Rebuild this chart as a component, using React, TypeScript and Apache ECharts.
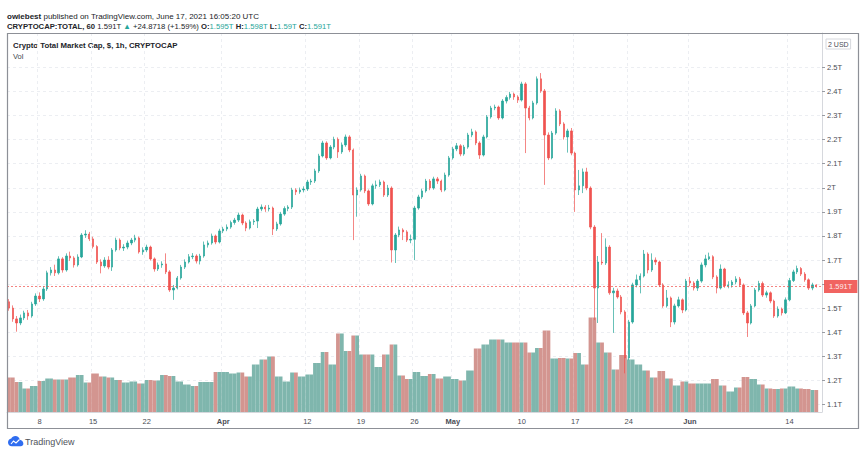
import React, { useEffect, useRef } from 'react';
import * as echarts from 'echarts';

// ---- data (price in trillions USD), half-day candles from 2021-03-04 00:00 UTC ----
const START_UTC = Date.UTC(2021, 2, 4, 0, 0);
const SLOT_HOURS = 12;
const SLOT_COUNT = 213;

// [open, close, low, high]
const candles: number[][] = [
  [1.527,1.501,1.490,1.538],[1.501,1.456,1.444,1.512],[1.456,1.439,1.403,1.468],[1.439,1.460,1.430,1.474],
  [1.460,1.481,1.451,1.490],[1.481,1.468,1.452,1.493],[1.468,1.518,1.461,1.527],[1.518,1.551,1.510,1.562],
  [1.551,1.539,1.526,1.566],[1.539,1.580,1.531,1.592],[1.580,1.647,1.572,1.656],[1.647,1.659,1.636,1.671],
  [1.659,1.647,1.634,1.681],[1.647,1.705,1.640,1.716],[1.705,1.659,1.648,1.712],[1.659,1.717,1.652,1.728],
  [1.717,1.709,1.697,1.735],[1.709,1.680,1.669,1.716],[1.680,1.713,1.673,1.724],[1.713,1.804,1.708,1.812],
  [1.804,1.808,1.792,1.824],[1.808,1.788,1.779,1.817],[1.788,1.756,1.748,1.797],[1.756,1.692,1.684,1.762],
  [1.692,1.676,1.645,1.703],[1.676,1.700,1.668,1.712],[1.700,1.671,1.662,1.716],[1.671,1.742,1.655,1.750],
  [1.742,1.783,1.735,1.793],[1.783,1.750,1.741,1.790],[1.750,1.754,1.738,1.766],[1.754,1.771,1.745,1.781],
  [1.771,1.783,1.762,1.792],[1.783,1.792,1.774,1.805],[1.792,1.734,1.727,1.798],[1.734,1.742,1.722,1.753],
  [1.742,1.754,1.733,1.764],[1.754,1.705,1.698,1.760],[1.705,1.663,1.652,1.711],[1.663,1.680,1.655,1.690],
  [1.680,1.684,1.668,1.695],[1.684,1.651,1.642,1.728],[1.651,1.576,1.568,1.658],[1.576,1.584,1.535,1.597],
  [1.584,1.626,1.578,1.634],[1.626,1.671,1.619,1.680],[1.671,1.692,1.663,1.703],[1.692,1.714,1.686,1.725],
  [1.714,1.717,1.704,1.729],[1.717,1.696,1.686,1.724],[1.696,1.717,1.682,1.726],[1.717,1.763,1.710,1.777],
  [1.763,1.771,1.752,1.781],[1.771,1.800,1.764,1.810],[1.800,1.775,1.766,1.806],[1.775,1.821,1.769,1.830],
  [1.821,1.829,1.812,1.838],[1.829,1.837,1.820,1.848],[1.837,1.856,1.830,1.864],[1.856,1.866,1.847,1.875],
  [1.866,1.887,1.858,1.897],[1.887,1.854,1.845,1.893],[1.854,1.833,1.820,1.861],[1.833,1.859,1.827,1.868],
  [1.859,1.862,1.846,1.870],[1.862,1.912,1.833,1.921],[1.912,1.920,1.903,1.931],[1.920,1.912,1.900,1.928],
  [1.912,1.916,1.902,1.929],[1.916,1.829,1.804,1.922],[1.829,1.850,1.821,1.859],[1.850,1.891,1.843,1.900],
  [1.891,1.914,1.884,1.923],[1.914,1.920,1.903,1.928],[1.920,1.991,1.912,2.000],[1.991,1.983,1.970,1.998],
  [1.983,1.991,1.975,2.001],[1.991,1.995,1.981,2.006],[1.995,2.024,1.987,2.033],[2.024,2.028,2.012,2.037],
  [2.028,2.070,2.020,2.079],[2.070,2.132,2.062,2.141],[2.132,2.186,2.126,2.195],[2.186,2.124,2.116,2.193],
  [2.124,2.169,2.118,2.177],[2.169,2.201,2.160,2.212],[2.201,2.149,2.124,2.209],[2.149,2.178,2.141,2.188],
  [2.178,2.211,2.170,2.221],[2.211,2.157,2.148,2.218],[2.157,1.970,1.783,2.163],[1.970,1.991,1.880,2.002],
  [1.991,2.049,1.984,2.058],[2.049,1.987,1.978,2.055],[1.987,1.933,1.925,1.993],[1.933,2.008,1.927,2.017],
  [2.008,2.012,1.996,2.030],[2.012,2.024,2.003,2.034],[2.024,1.970,1.962,2.030],[1.970,1.999,1.962,2.012],
  [1.999,1.742,1.690,2.006],[1.742,1.804,1.688,1.812],[1.804,1.825,1.795,1.839],[1.825,1.817,1.783,1.832],
  [1.817,1.783,1.775,1.824],[1.783,1.786,1.770,1.806],[1.786,1.916,1.700,1.925],[1.916,1.962,1.909,1.971],
  [1.962,1.987,1.954,1.996],[1.987,2.028,1.980,2.037],[2.028,1.999,1.990,2.036],[1.999,2.037,1.992,2.046],
  [2.037,2.028,2.016,2.045],[2.028,1.991,1.982,2.034],[1.991,2.053,1.985,2.063],[2.053,2.124,2.046,2.132],
  [2.124,2.161,2.117,2.170],[2.161,2.174,2.152,2.186],[2.174,2.140,2.131,2.181],[2.140,2.169,2.133,2.178],
  [2.169,2.219,2.162,2.228],[2.219,2.232,2.210,2.245],[2.232,2.186,2.177,2.238],[2.186,2.136,2.120,2.193],
  [2.136,2.211,2.130,2.220],[2.211,2.294,2.205,2.302],[2.294,2.331,2.287,2.340],[2.331,2.335,2.322,2.345],
  [2.335,2.290,2.282,2.341],[2.290,2.360,2.284,2.368],[2.360,2.375,2.350,2.384],[2.375,2.389,2.366,2.398],
  [2.389,2.377,2.365,2.395],[2.377,2.364,2.352,2.384],[2.364,2.431,2.358,2.440],[2.431,2.331,2.144,2.438],
  [2.331,2.290,2.280,2.340],[2.290,2.352,2.284,2.361],[2.352,2.452,2.345,2.462],[2.452,2.402,2.394,2.476],
  [2.402,2.219,2.012,2.410],[2.219,2.124,2.115,2.230],[2.124,2.227,2.118,2.236],[2.227,2.319,2.220,2.330],
  [2.319,2.265,2.256,2.326],[2.265,2.211,2.200,2.272],[2.211,2.236,2.146,2.245],[2.236,2.144,2.135,2.248],
  [2.144,1.991,1.900,2.150],[1.991,2.008,1.970,2.074],[2.008,2.066,1.978,2.080],[2.066,1.999,1.990,2.083],
  [1.999,1.837,1.828,2.006],[1.837,1.584,1.451,1.845],[1.584,1.692,1.439,1.717],[1.692,1.688,1.680,1.812],
  [1.688,1.754,1.680,1.790],[1.754,1.564,1.556,1.762],[1.564,1.572,1.398,1.585],[1.572,1.547,1.540,1.582],
  [1.547,1.485,1.475,1.555],[1.485,1.294,1.230,1.492],[1.294,1.443,1.285,1.452],[1.443,1.597,1.436,1.606],
  [1.597,1.618,1.587,1.640],[1.618,1.634,1.562,1.645],[1.634,1.725,1.628,1.742],[1.725,1.659,1.645,1.732],
  [1.659,1.700,1.651,1.728],[1.700,1.692,1.680,1.711],[1.692,1.597,1.588,1.698],[1.597,1.510,1.502,1.604],
  [1.510,1.543,1.503,1.576],[1.543,1.443,1.422,1.549],[1.443,1.510,1.433,1.519],[1.510,1.535,1.503,1.548],
  [1.535,1.493,1.480,1.541],[1.493,1.613,1.487,1.622],[1.613,1.605,1.592,1.630],[1.605,1.584,1.574,1.612],
  [1.584,1.613,1.572,1.621],[1.613,1.680,1.606,1.690],[1.680,1.705,1.670,1.722],[1.705,1.714,1.700,1.731],
  [1.714,1.630,1.621,1.720],[1.630,1.584,1.562,1.637],[1.584,1.663,1.578,1.682],[1.663,1.593,1.585,1.668],
  [1.593,1.597,1.583,1.612],[1.597,1.609,1.586,1.617],[1.609,1.622,1.600,1.633],[1.622,1.597,1.588,1.630],
  [1.597,1.481,1.472,1.603],[1.481,1.439,1.381,1.489],[1.439,1.510,1.433,1.518],[1.510,1.576,1.504,1.584],
  [1.576,1.603,1.569,1.614],[1.603,1.555,1.547,1.611],[1.555,1.564,1.544,1.573],[1.564,1.530,1.521,1.570],
  [1.530,1.468,1.460,1.536],[1.468,1.497,1.461,1.508],[1.497,1.481,1.470,1.503],[1.481,1.535,1.476,1.545],
  [1.535,1.615,1.529,1.626],[1.615,1.651,1.609,1.660],[1.651,1.665,1.642,1.677],[1.665,1.642,1.634,1.671],
  [1.642,1.618,1.610,1.650],[1.618,1.584,1.576,1.624],[1.584,1.597,1.575,1.606],[1.597,1.591,1.586,1.600],
];

// daily volume (arbitrary units), one value per day from Mar 4
const dailyVolume: number[] = [
  69, 60, 47, 52, 62, 67, 65, 65, 69, 74,
  59, 77, 71, 69, 64, 59, 61, 57, 64, 63,
  74, 72, 61, 55, 52, 60, 60, 80, 80, 77,
  79, 71, 95, 105, 111, 71, 61, 79, 71, 75,
  98, 120, 95, 157, 122, 153, 115, 115, 90, 115,
  135, 73, 66, 80, 72, 76, 67, 71, 66, 63,
  83, 127, 135, 145, 145, 139, 139, 139, 119, 128,
  163, 107, 108, 107, 118, 95, 189, 139, 119, 85,
  114, 105, 95, 83, 69, 82, 67, 53, 61, 57,
  57, 57, 66, 53, 41, 49, 70, 66, 55, 47,
  46, 47, 51, 47, 46, 44,
];

const xTickDates = [
  '2021-03-08', '2021-03-15', '2021-03-22', '2021-04-01', '2021-04-12', '2021-04-19', '2021-04-26',
  '2021-05-01', '2021-05-10', '2021-05-17', '2021-05-24', '2021-06-01', '2021-06-14',
];
const xTickLabels = ['8', '15', '22', 'Apr', '12', '19', '26', 'May', '10', '17', '24', 'Jun', '14'];
const monthLabels = ['Apr', 'May', 'Jun'];
const yTickValues = [1.1, 1.2, 1.3, 1.4, 1.5, 1.6, 1.7, 1.8, 1.9, 2.0, 2.1, 2.2, 2.3, 2.4, 2.5];
const yLabelValues = [1.1, 1.2, 1.3, 1.4, 1.5, 1.7, 1.8, 1.9, 2.0, 2.1, 2.2, 2.3, 2.4, 2.5];

const UP = '#26a69a';
const DOWN = '#ef5350';
const VOL_UP = '#7fb6ad';
const VOL_DOWN = '#d39590';
const FONT = '"Liberation Sans", Arial, sans-serif';

function pad(n: number) {
  return n < 10 ? '0' + n : '' + n;
}

export default function App() {
  const ref = useRef<HTMLDivElement>(null);

  useEffect(() => {
    document.body.style.margin = '0';
    if (!ref.current) return;
    const chart = echarts.init(ref.current, null, { renderer: 'svg' });

    const categories: string[] = [];
    for (let s = 0; s < SLOT_COUNT; s++) {
      const d = new Date(START_UTC + s * SLOT_HOURS * 3600 * 1000);
      categories.push(
        `${d.getUTCFullYear()}-${pad(d.getUTCMonth() + 1)}-${pad(d.getUTCDate())} ${pad(d.getUTCHours())}:00`
      );
    }
    const tickMap: Record<string, string> = {};
    xTickDates.forEach((t, k) => {
      tickMap[t + ' 00:00'] = xTickLabels[k];
    });
    const isTick = (_i: number, v: string) => tickMap[v] !== undefined;

    const volumeData = candles.map((c, i) => ({
      value: dailyVolume[Math.floor(i / 2)],
      itemStyle: { color: c[1] >= c[0] ? VOL_UP : VOL_DOWN },
    }));
    const lastClose = candles[candles.length - 1][1];

    const cloudPath =
      'M6 16C2.7 16 0 13.3 0 10C0 7 2.2 4.6 5.1 4.1C6.2 1.7 8.6 0 11.5 0C15 0 17.9 2.5 18.4 5.8C21.5 6.2 24 8.8 24 12C24 14.2 22.2 16 20 16Z';
    echarts.graphic.registerShape('tvcloud', echarts.graphic.extendPath(cloudPath, {}));

    const option: any = {
      animation: false,
      backgroundColor: '#ffffff',
      grid: { left: 7, right: 42, top: 33, bottom: 46, containLabel: false },
      xAxis: {
        type: 'category',
        data: categories,
        boundaryGap: true,
        axisLine: { show: true, lineStyle: { color: '#d6d8dd' } },
        axisTick: { show: false },
        axisLabel: {
          interval: isTick,
          margin: 5,
          fontSize: 7.5,
          fontFamily: FONT,
          color: '#4a4d55',
          formatter: (v: string) => {
            const l = tickMap[v];
            if (l === undefined) return '';
            return monthLabels.indexOf(l) >= 0 ? `{b|${l}}` : l;
          },
          rich: { b: { fontWeight: 'bold', fontSize: 7.5, fontFamily: FONT, color: '#4a4d55' } },
        },
        splitLine: { show: true, interval: isTick, lineStyle: { color: '#eceef2', type: [3, 3], width: 1 } },
      },
      yAxis: [
        {
          type: 'value',
          position: 'right',
          min: 1.0697,
          max: 2.6423,
          axisLine: { show: true, lineStyle: { color: '#d6d8dd' } },
          axisTick: { show: true, length: 3, customValues: yTickValues, lineStyle: { color: '#9a9ca3' } },
          axisLabel: {
            customValues: yLabelValues,
            margin: 5,
            fontSize: 7.5,
            fontFamily: FONT,
            color: '#4a4d55',
            formatter: (v: number) => `${parseFloat(v.toFixed(1))}T`,
          },
          splitLine: { show: true, lineStyle: { color: '#eceef2', type: [3, 3], width: 1 } },
        },
        {
          type: 'value',
          min: 0,
          max: 758,
          show: false,
          splitLine: { show: false },
        },
      ],
      series: [
        {
          type: 'bar',
          yAxisIndex: 1,
          data: volumeData,
          barWidth: '100%',
          barGap: '-100%',
          z: 1,
        },
        {
          type: 'candlestick',
          data: candles,
          barWidth: '50%',
          z: 3,
          itemStyle: {
            color: UP,
            color0: DOWN,
            borderColor: UP,
            borderColor0: DOWN,
            borderWidth: 0.7,
          },
          markLine: {
            silent: true,
            symbol: ['none', 'none'],
            data: [{ yAxis: lastClose }],
            lineStyle: { color: DOWN, type: [2, 2], width: 0.8, opacity: 0.9 },
            label: {
              show: true,
              position: 'end',
              distance: 2,
              formatter: () => `${lastClose.toFixed(3)}T`,
              backgroundColor: DOWN,
              color: '#ffffff',
              fontSize: 7.5,
              fontFamily: FONT,
              padding: [3, 5, 2, 5],
            },
          },
        },
      ],
      graphic: [
        {
          type: 'rect',
          shape: { x: 7.5, y: 33.5, width: 851, height: 395 },
          style: { fill: 'none', stroke: '#8d9097', lineWidth: 1.2 },
          silent: true,
          z: 10,
        },
        {
          type: 'text',
          x: 7,
          y: 16,
          style: {
            text: '{b|owiebest} published on TradingView.com, June 17, 2021 16:05:20 UTC',
            fontSize: 8,
            fontFamily: FONT,
            fill: '#222429',
            verticalAlign: 'middle',
            rich: { b: { fontWeight: 'bold', fontSize: 8, fontFamily: FONT, fill: '#222429' } },
          },
        },
        {
          type: 'text',
          x: 7,
          y: 26,
          style: {
            text:
              '{b|CRYPTOCAP:TOTAL, 60} 1.591T {g|▲} +24.8718 (+1.59%) {b|O:}{g|1.595T} {b|H:}{g|1.598T} {b|L:}{g|1.59T} {b|C:}{g|1.591T}',
            fontSize: 7.7,
            fontFamily: FONT,
            fill: '#222429',
            verticalAlign: 'middle',
            rich: {
              b: { fontWeight: 'bold', fontSize: 7.7, fontFamily: FONT, fill: '#222429' },
              g: { fontSize: 7.7, fontFamily: FONT, fill: UP },
            },
          },
        },
        {
          type: 'text',
          x: 13,
          y: 45,
          style: {
            text: 'Crypto Total Market Cap, $, 1h, CRYPTOCAP',
            fontSize: 7.8,
            fontWeight: 'bold',
            fontFamily: FONT,
            fill: '#222429',
            verticalAlign: 'middle',
          },
        },
        {
          type: 'text',
          x: 13,
          y: 56,
          style: { text: 'Vol', fontSize: 7.5, fontFamily: FONT, fill: '#444750', verticalAlign: 'middle' },
        },
        {
          type: 'text',
          x: 826,
          y: 44,
          style: {
            text: '2 USD',
            fontSize: 7,
            fontFamily: FONT,
            fill: '#4a4d55',
            verticalAlign: 'middle',
            borderColor: '#d6d8dd',
            borderWidth: 1,
            padding: [2, 2, 1, 2],
          },
        },
        {
          type: 'tvcloud',
          x: 8,
          y: 436,
          scaleX: 0.64,
          scaleY: 0.64,
          style: { fill: '#2f6df0' },
        },
        {
          type: 'polyline',
          shape: { points: [[11, 444], [13.5, 441], [16, 443], [19.5, 439.5]] },
          style: { stroke: '#ffffff', lineWidth: 1.1, fill: 'none' },
          z: 11,
        },
        {
          type: 'text',
          x: 25,
          y: 441.5,
          style: { text: 'TradingView', fontSize: 9, fontFamily: FONT, fill: '#50535a', verticalAlign: 'middle' },
        },
      ],
    };

    chart.setOption(option);
    return () => chart.dispose();
  }, []);

  return <div ref={ref} style={{ width: 864, height: 458, background: '#ffffff' }} />;
}
